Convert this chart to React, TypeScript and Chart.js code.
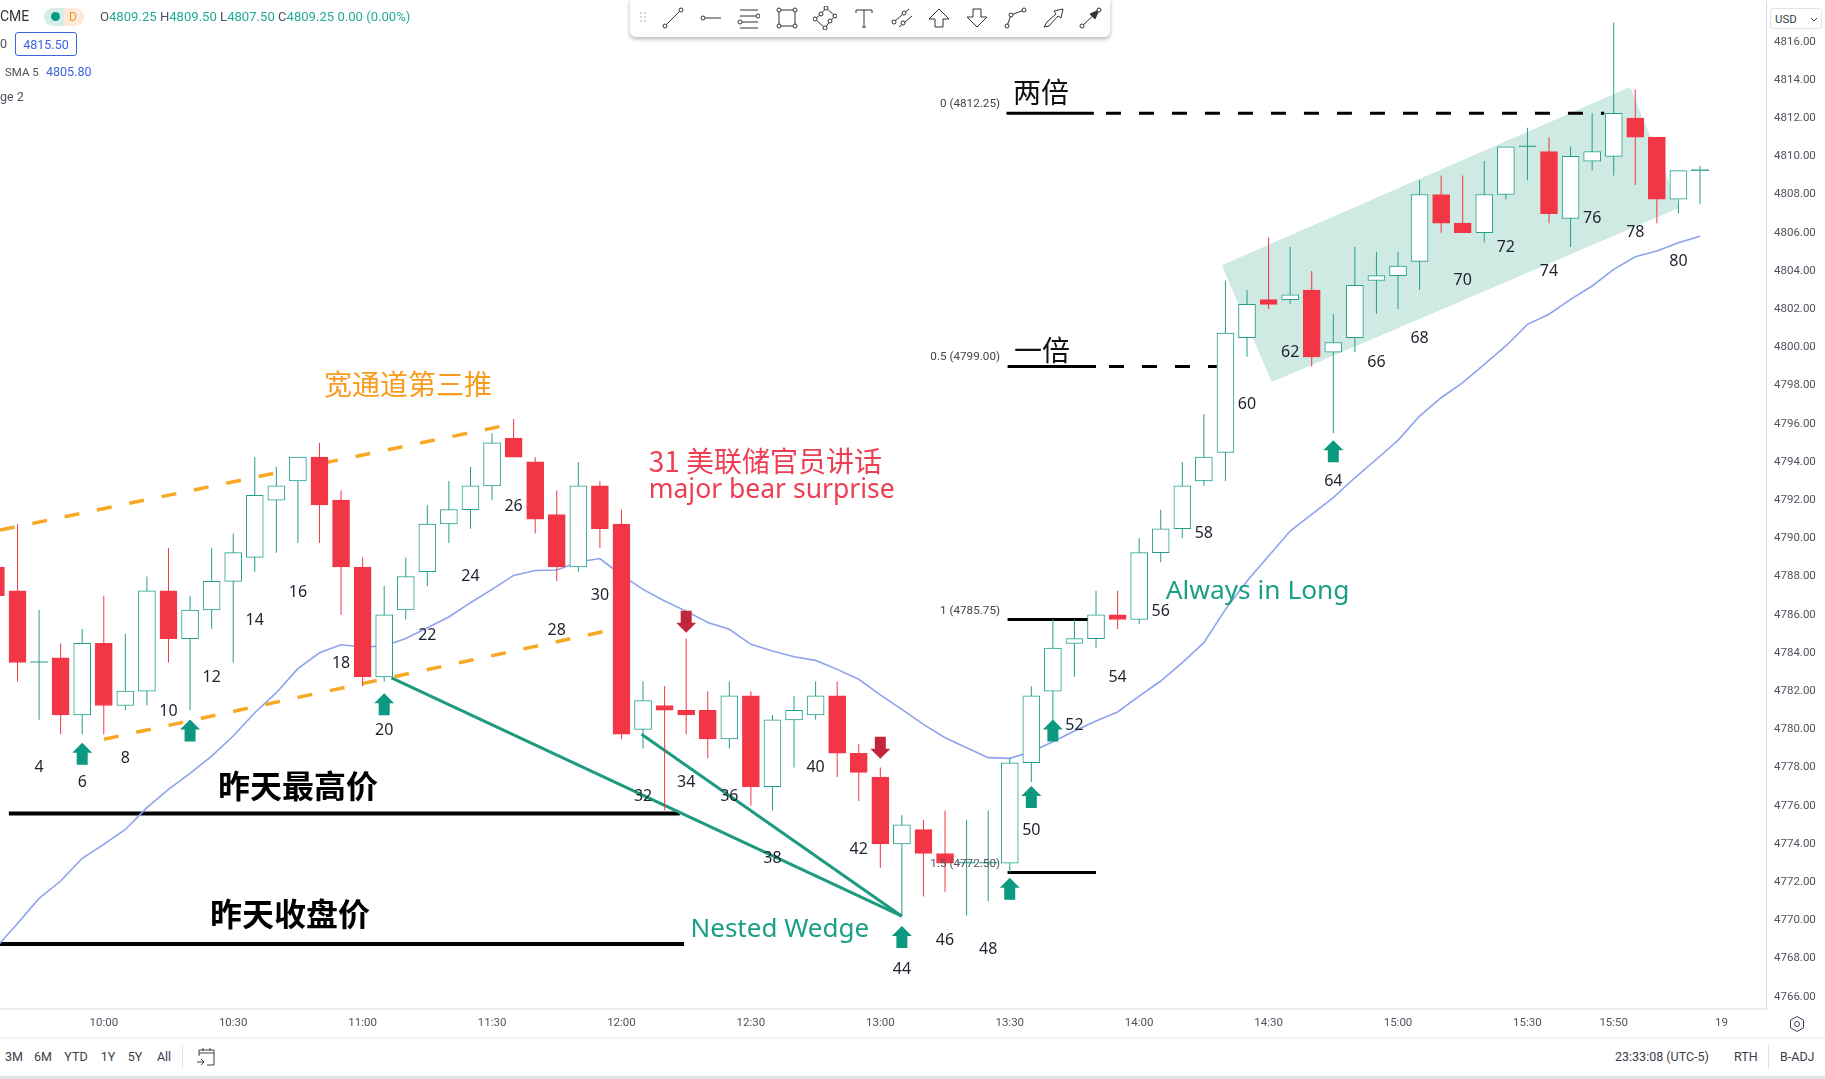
import { useEffect, useRef } from 'react';
import { Chart, registerables } from 'chart.js';

Chart.register(...registerables);

const UP = '#22a08c';
const DOWN = '#f23645';
const TEAL_TEXT = '#1a9e85';
const SMA_BLUE = '#8ea2ee';

const barNums = [
  2, 3, 4, 5, 6, 7, 8, 9, 10, 11, 12, 13, 14, 15, 16, 17, 18, 19, 20, 21, 22, 23, 24, 25, 26, 27, 28, 29, 30, 31,
  32, 33, 34, 35, 36, 37, 38, 39, 40, 41, 42, 43, 44, 45, 46, 47, 48, 49, 50, 51, 52, 53, 54, 55, 56, 57, 58, 59,
  60, 61, 62, 63, 64, 65, 66, 67, 68, 69, 70, 71, 72, 73, 74, 75, 76, 77, 78, 79, 80, 81,
];
const opens = [
  4788.5, 4787.25, 4783.5, 4783.75, 4780.75, 4784.5, 4781.25, 4782, 4787.25, 4784.75, 4786.25, 4787.75, 4789, 4792, 4793,
  4794.25, 4792, 4788.5, 4782.75, 4786.25, 4788.25, 4790.75, 4791.5, 4792.75, 4795.25, 4794, 4791.25, 4788.5, 4792.75, 4790.75,
  4780, 4781.25, 4781, 4781, 4779.5, 4781.75, 4777, 4780.5, 4780.75, 4781.75, 4778.75, 4777.5, 4774, 4774.75, 4773.5,
  4773, 4773, 4773, 4778.25, 4782, 4784.5, 4784.75, 4786, 4785.75, 4789.25, 4790.5, 4793, 4794.5,
  4800.5, 4802.5, 4802.5, 4803, 4799.75, 4800.5, 4803.5, 4803.75, 4804.5, 4808, 4806.5, 4806, 4808, 4810.5, 4810.25, 4806.75,
  4809.75, 4810, 4812, 4811, 4807.75, 4809.25,
];
const closes = [
  4787, 4783.5, 4783.5, 4780.75, 4784.5, 4781.25, 4782, 4787.25, 4784.75, 4786.25, 4787.75, 4789.25, 4792.25, 4792.75, 4794.25,
  4791.75, 4788.5, 4782.75, 4786, 4788, 4790.75, 4791.5, 4792.75, 4795, 4794.25, 4791, 4788.5, 4792.75, 4790.5, 4779.75,
  4781.5, 4781, 4780.75, 4779.5, 4781.75, 4777, 4780.5, 4781, 4781.75, 4778.75, 4777.75, 4774, 4775, 4773.5, 4773,
  4773, 4773, 4778.25, 4781.75, 4784.25, 4784.75, 4786, 4785.75, 4789.25, 4790.5, 4792.75, 4794.25, 4800.75,
  4802.25, 4802.25, 4802.75, 4799.5, 4800.25, 4803.25, 4803.75, 4804.25, 4808, 4806.5, 4806, 4808, 4810.5, 4810.5, 4807, 4810,
  4810.25, 4812.25, 4811, 4807.75, 4809.25, 4809.25,
];
const highs = [
  4789, 4790.75, 4786.25, 4784.5, 4785.25, 4787, 4785, 4788, 4789.5, 4787, 4789.5, 4790.25, 4794.25, 4793.75, 4794.25,
  4795, 4792.5, 4789, 4787.5, 4789, 4791.75, 4793, 4793.75, 4795.5, 4796.25, 4794.25, 4792.5, 4794, 4793, 4791.5,
  4782.5, 4782.25, 4784.75, 4782, 4782.5, 4782, 4780.75, 4781.75, 4782.5, 4782.5, 4779.25, 4778, 4775.5, 4775.25, 4775.75,
  4775.25, 4775.75, 4778.5, 4782.25, 4785.75, 4785.75, 4787.25, 4787.25, 4790, 4791.5, 4794, 4796.5, 4803.5,
  4803, 4805.75, 4805.25, 4804, 4801.75, 4805.25, 4805, 4805, 4808.75, 4809, 4809, 4809.75, 4810.5, 4811.5, 4811, 4810.5,
  4812.25, 4817, 4813.5, 4811, 4809.25, 4809.5,
];
const lows = [
  4786.5, 4782.5, 4780.5, 4779.75, 4779.75, 4779.75, 4781, 4781.25, 4783.5, 4781, 4785.25, 4783.5, 4788.25, 4789.25, 4789.75,
  4789.75, 4786, 4782.25, 4782.5, 4785.75, 4787.5, 4789.75, 4790.5, 4792, 4794.25, 4790.25, 4787.75, 4788.25, 4789.5, 4779.5,
  4779, 4775.75, 4779.75, 4778.5, 4779, 4776, 4775.75, 4778, 4780.5, 4777.5, 4776.25, 4772.75, 4770.25, 4771.25, 4771.5,
  4770.25, 4771, 4772.5, 4777.25, 4780, 4782.75, 4784.25, 4785.25, 4785.5, 4788.75, 4790, 4792.75, 4793,
  4799.5, 4802, 4802.25, 4799, 4795.5, 4799.75, 4801.75, 4802, 4803, 4806, 4806, 4805.5, 4807.75, 4808.75, 4806.5, 4805.25,
  4809.25, 4809, 4808.5, 4806.5, 4807, 4807.5,
];
const sma = [
  4768.57, 4769.84, 4771.15, 4772.06, 4773.25, 4773.98, 4774.76, 4775.9, 4776.86, 4777.7, 4778.6, 4779.65, 4780.87, 4781.92, 4783.18,
  4784.01, 4784.43, 4784.31, 4784.36, 4784.76, 4785.32, 4785.88, 4786.63, 4787.33, 4788.06, 4788.32, 4788.34, 4788.76, 4788.94, 4788.08,
  4787.33, 4786.72, 4786.19, 4785.59, 4785.24, 4784.45, 4784.1, 4783.8, 4783.61, 4783.14, 4782.62, 4781.8, 4781.05, 4780.26, 4779.56,
  4779.04, 4778.52, 4778.48, 4778.83, 4779.35, 4779.91, 4780.44, 4780.91, 4781.74, 4782.53, 4783.49, 4784.54, 4786.28,
  4787.77, 4789.07, 4790.38, 4791.26, 4792.13, 4793.17, 4794.14, 4795.13, 4796.4, 4797.36, 4798.15, 4799.11, 4800.07, 4801.2, 4801.73, 4802.51,
  4803.21, 4804.08, 4804.74, 4805.04, 4805.48, 4805.81,
];

const priceTicks = [
  4766, 4768, 4770, 4772, 4774, 4776, 4778, 4780, 4782, 4784, 4786, 4788, 4790, 4792, 4794, 4796, 4798, 4800, 4802, 4804,
  4806, 4808, 4810, 4812, 4814, 4816,
];
const timeBars = [7, 13, 19, 25, 31, 37, 43, 49, 55, 61, 67, 73, 77, 82];
const timeLabels = ['10:00', '10:30', '11:00', '11:30', '12:00', '12:30', '13:00', '13:30', '14:00', '14:30', '15:00', '15:30', '15:50', '19'];

// bar numbers printed under and over the candles
const countBars = [4, 6, 8, 10, 12, 14, 16, 18, 20, 22, 24, 26, 28, 30, 32, 34, 36, 38, 40, 42, 44, 46, 48, 50, 52, 54, 56, 58, 60, 62, 64, 66, 68, 70, 72, 74, 76, 78, 80];
const countPrices = [
  4778, 4777.2, 4778.5, 4780.96, 4782.7, 4785.72, 4787.19, 4783.47, 4779.96, 4784.94, 4788, 4791.69, 4785.2, 4787.03, 4776.47, 4777.2, 4776.47, 4773.23, 4778,
  4773.72, 4767.43, 4768.97, 4768.46, 4774.73, 4780.23, 4782.7, 4786.19, 4790.24, 4797.02, 4799.72, 4793, 4799.23, 4800.45, 4803.5, 4805.22, 4803.96, 4806.75, 4806, 4804.48,
];

// arrow tips
const upArrowBars = [6, 11, 20, 44, 49, 50, 51, 64];
const upArrowPrices = [4779.3, 4780.52, 4781.89, 4769.7, 4772.23, 4777.03, 4780.52, 4795.13];
const downArrowBars = [34, 43];
const downArrowPrices = [4785.06, 4778.46];

// drawn lines, as bar number and price
const upperChannelBars = [2.19, 25.65];
const upperChannelPrices = [4790.43, 4795.92];
const lowerChannelBars = [7.01, 30.14];
const lowerChannelPrices = [4779.48, 4785.11];
const wedgeOneBars = [20.34, 44];
const wedgeOnePrices = [4782.7, 4770.22];
const wedgeTwoBars = [31.93, 44];
const wedgeTwoPrices = [4779.74, 4770.22];
const yHighBars = [2.6, 33.7];
const yHighPrices = [4775.6, 4775.6];
const yCloseBars = [2.19, 33.9];
const yClosePrices = [4768.76, 4768.76];
const fibZeroBars = [48.85, 52.9];
const fibZeroDashBars = [53.46, 76.56];
const fibHalfBars = [48.9, 53];
const fibHalfDashBars = [53.6, 58.6];
const fibOneBars = [48.9, 53];
const fibExtBars = [48.9, 53];

const flagBars = [58.83, 77.76, 80.05, 61.15];
const flagPrices = [4804.29, 4813.63, 4807.3, 4798.18];

const segment = (xs: number[], ys: number[], color: string, width: number, dash: number[] = []) => ({
  type: 'line' as const,
  data: xs.map((x, i) => ({ x, y: ys[i] })),
  borderColor: color,
  borderWidth: width,
  borderDash: dash,
  pointRadius: 0,
  tension: 0,
  fill: false,
  order: 3,
});

const level = (p: number) => [p, p];

function upArrow(ctx: CanvasRenderingContext2D, x: number, y: number, dir: number) {
  ctx.beginPath();
  ctx.moveTo(x, y);
  ctx.lineTo(x + 10, y + dir * 10);
  ctx.lineTo(x + 5.5, y + dir * 10);
  ctx.lineTo(x + 5.5, y + dir * 22);
  ctx.lineTo(x - 5.5, y + dir * 22);
  ctx.lineTo(x - 5.5, y + dir * 10);
  ctx.lineTo(x - 10, y + dir * 10);
  ctx.closePath();
  ctx.fill();
}

const notesPlugin = {
  id: 'notes',
  beforeDatasetsDraw(chart: any) {
    const { ctx, scales } = chart;
    ctx.save();
    ctx.fillStyle = '#cfe9e3';
    ctx.beginPath();
    flagBars.forEach((b, i) => ctx.lineTo(scales.x.getPixelForValue(b), scales.y.getPixelForValue(flagPrices[i])));
    ctx.closePath();
    ctx.fill();
    ctx.restore();
  },
  afterDatasetsDraw(chart: any) {
    const { ctx, scales } = chart;
    const px = (b: number) => scales.x.getPixelForValue(b);
    const py = (p: number) => scales.y.getPixelForValue(p);
    ctx.save();

    ctx.fillStyle = '#0b9a80';
    upArrowBars.forEach((b, i) => upArrow(ctx, px(b), py(upArrowPrices[i]), 1));
    ctx.fillStyle = '#c2263c';
    downArrowBars.forEach((b, i) => upArrow(ctx, px(b), py(downArrowPrices[i]), -1));

    ctx.textBaseline = 'middle';
    ctx.textAlign = 'center';
    ctx.fillStyle = '#1e222d';
    ctx.font = '16px "Noto Sans"';
    countBars.forEach((b, i) => ctx.fillText(String(b), px(b), py(countPrices[i])));

    const note = (text: string, bar: number, price: number, font: string, color: string, align: CanvasTextAlign = 'left') => {
      ctx.font = font;
      ctx.fillStyle = color;
      ctx.textAlign = align;
      ctx.fillText(text, px(bar), py(price));
    };
    const cjk = '"Noto Sans CJK SC"';
    note('宽通道第三推', 17.21, 4798.08, `28px ${cjk}`, '#f99b1c');
    note('31 美联储官员讲话', 32.26, 4794.01, `28px ${cjk}`, '#ee3e54');
    note('major bear surprise', 32.26, 4792.53, '26.5px "Noto Sans"', '#ee3e54');
    note('Always in Long', 56.23, 4787.24, '26.3px "Noto Sans"', TEAL_TEXT);
    note('Nested Wedge', 34.2, 4769.54, '26px "Noto Sans"', TEAL_TEXT);
    note('昨天最高价', 12.3, 4777.03, `bold 32px ${cjk}`, '#000');
    note('昨天收盘价', 11.93, 4770.34, `bold 32px ${cjk}`, '#000');
    note('两倍', 49.15, 4813.33, `28px ${cjk}`, '#111');
    note('一倍', 49.2, 4799.86, `28px ${cjk}`, '#111');
    const fibFont = '11.7px Roboto';
    note('0 (4812.25)', 48.55, 4812.74, fibFont, '#444', 'right');
    note('0.5 (4799.00)', 48.55, 4799.49, fibFont, '#444', 'right');
    note('1 (4785.75)', 48.55, 4786.19, fibFont, '#444', 'right');
    note('1.5 (4772.50)', 48.55, 4772.94, fibFont, '#555', 'right');
    ctx.restore();
  },
};

const bodyFill = (i: number) => (closes[i] === opens[i] ? UP : closes[i] > opens[i] ? '#ffffff' : DOWN);
const candleLine = (i: number) => (closes[i] >= opens[i] ? UP : DOWN);

// no room kept for the outer tick labels, the plot runs up to the canvas edge
const clearPadding = (a: any) => {
  a.paddingTop = 0;
  a.paddingBottom = 0;
  a.paddingLeft = 0;
  a.paddingRight = 0;
};

function CandleChart() {
  const canvasRef = useRef<HTMLCanvasElement | null>(null);

  useEffect(() => {
    const canvas = canvasRef.current;
    if (!canvas) return;
    const chart = new Chart(canvas, {
      type: 'bar',
      plugins: [notesPlugin],
      data: {
        datasets: [
          {
            type: 'bar',
            data: barNums.map((x, i) => ({ x, y: [opens[i], closes[i]] })),
            barThickness: 17,
            minBarLength: 1,
            grouped: false,
            borderSkipped: false,
            borderWidth: 1,
            backgroundColor: (c: any) => bodyFill(c.dataIndex),
            borderColor: (c: any) => candleLine(c.dataIndex),
            order: 1,
          },
          {
            type: 'bar',
            data: barNums.map((x, i) => ({ x, y: [lows[i], highs[i]] })),
            barThickness: 1,
            inflateAmount: 0,
            grouped: false,
            backgroundColor: (c: any) => candleLine(c.dataIndex),
            order: 2,
          },
          segment(barNums, sma, SMA_BLUE, 1.6),
          segment(upperChannelBars, upperChannelPrices, '#f9a825', 3.5, [15, 18]),
          segment(lowerChannelBars, lowerChannelPrices, '#f9a825', 3.5, [15, 18]),
          segment(wedgeOneBars, wedgeOnePrices, '#1d9a80', 3),
          segment(wedgeTwoBars, wedgeTwoPrices, '#1d9a80', 3),
          segment(yHighBars, yHighPrices, '#000', 4),
          segment(yCloseBars, yClosePrices, '#000', 4),
          segment(fibZeroBars, level(4812.25), '#000', 3),
          segment(fibZeroDashBars, level(4812.25), '#000', 3, [15, 18]),
          segment(fibHalfBars, level(4799), '#000', 3),
          segment(fibHalfDashBars, level(4799), '#000', 3, [15, 18]),
          segment(fibOneBars, level(4785.75), '#000', 3),
          segment(fibExtBars, level(4772.5), '#000', 3),
        ] as any,
      },
      options: {
        animation: false,
        responsive: false,
        devicePixelRatio: 1,
        events: [],
        layout: { autoPadding: false, padding: 0 },
        plugins: { legend: { display: false }, tooltip: { enabled: false } },
        scales: {
          x: {
            type: 'linear',
            offset: false,
            min: 2.189,
            max: 84.06,
            afterFit: (a: any) => { a.height = 29; clearPadding(a); },
            afterBuildTicks: (a: any) => { a.ticks = timeBars.map((value) => ({ value })); },
            grid: { display: false, drawTicks: false },
            border: { color: '#eef0f5', width: 2 },
            ticks: {
              autoSkip: false,
              maxRotation: 0,
              padding: 7,
              color: '#50535e',
              font: { family: 'Roboto', size: 11.5 },
              callback: (v: any) => timeLabels[timeBars.indexOf(v)],
            },
          },
          y: {
            type: 'linear',
            position: 'right',
            min: 4765.36,
            max: 4818.13,
            afterFit: (a: any) => { a.width = 59; clearPadding(a); },
            afterBuildTicks: (a: any) => { a.ticks = priceTicks.map((value) => ({ value })); },
            grid: { display: false, drawTicks: false },
            border: { color: '#d6d9e0', width: 1 },
            ticks: {
              autoSkip: false,
              padding: 8,
              color: '#50535e',
              font: { family: 'Roboto', size: 11.5 },
              callback: (v: any) => Number(v).toFixed(2),
            },
          },
        },
      },
    });
    return () => chart.destroy();
  }, []);

  return <canvas ref={canvasRef} width={1825} height={1037} style={{ position: 'absolute', left: 0, top: 1 }} />;
}

const abs = (left: number, top: number, extra: React.CSSProperties = {}): React.CSSProperties => ({
  position: 'absolute', left, top, whiteSpace: 'nowrap', lineHeight: '16px', ...extra,
});

const Node = ({ x, y }: { x: number; y: number }) => <circle cx={x} cy={y} r={2} fill="#fff" />;

const toolIcons: [number, JSX.Element][] = [
  [673, <><path d="M5 19 19 5" /><Node x={4} y={20} /><Node x={20} y={4} /></>],
  [711, <><path d="M6 12H22" /><Node x={4} y={12} /></>],
  [748, <><path d="M4 4H22M4 10H20M6 16H22M4 22H22" /><Node x={22} y={10} /><Node x={4} y={16} /></>],
  [787, <><path d="M4 4H20V20H4Z" /><Node x={4} y={4} /><Node x={20} y={4} /><Node x={4} y={20} /><Node x={20} y={20} /></>],
  [825, <><path d="M2 13 8 8 13 2 22 10 17 15 12 22Z" /><Node x={2} y={13} /><Node x={8} y={8} /><Node x={13} y={2} /><Node x={22} y={10} /><Node x={17} y={15} /><Node x={12} y={22} /></>],
  [864, <path d="M4 7V4H20V7M12 4V21M10 21H14" />],
  [902, <><path d="M5 15 19 3M9 21 22 10" /><Node x={4} y={16} /><Node x={14} y={7} /><Node x={13} y={17} /></>],
  [939, <path d="M12 3 22 13H16V21H8V13H2Z" />],
  [977, <path d="M12 21 22 11H16V3H8V11H2Z" />],
  [1015, <><path d="M4 20 8 9 21 4" /><Node x={4} y={20} /><Node x={8} y={9} /><Node x={21} y={4} /></>],
  [1053, <path d="M3 21 6 16 15 8 13 5 22 3 20 12 17 10 8 20Z" />],
  [1090, <><path d="M4 20 20 5" /><path d="M21 4 12 8 17 13Z" fill="#333" /><Node x={4} y={20} /><Node x={21} y={4} /></>],
];

function Toolbar() {
  return (
    <div style={{ position: 'absolute', left: 630, top: -4, width: 480, height: 41, background: '#fff', borderRadius: 6, boxShadow: '0 2px 4px rgba(0,0,0,.3)' }}>
      <div style={{ position: 'absolute', left: 9, top: 15, width: 8, height: 12, opacity: 0.35, backgroundImage: 'radial-gradient(#888 1px, transparent 1px)', backgroundSize: '4px 4px' }} />
      {toolIcons.map(([x, icon]) => (
        <svg key={x} width={24} height={24} viewBox="0 0 24 24" fill="none" stroke="#333" strokeWidth={1} style={{ position: 'absolute', left: x - 630 - 12, top: 10 }}>
          {icon}
        </svg>
      ))}
    </div>
  );
}

function Legend() {
  const gray = '#4c525e';
  const val = '#22ab94';
  const blue = '#3d63e0';
  return (
    <>
      <span style={abs(0, 8, { fontSize: 14, color: '#333' })}>CME</span>
      <div style={{ position: 'absolute', left: 44, top: 8, width: 40, height: 18, borderRadius: 9, background: 'linear-gradient(90deg,#d7ede8 50%,#fdeadb 50%)' }} />
      <div style={{ position: 'absolute', left: 51, top: 12, width: 9, height: 9, borderRadius: 5, background: '#089981' }} />
      <span style={abs(69, 9, { fontSize: 12, color: '#f7931e' })}>D</span>
      <span style={abs(100, 9, { fontSize: 13.1, color: val })}>
        <span style={{ color: gray }}>O</span>4809.25 <span style={{ color: gray }}>H</span>4809.50 <span style={{ color: gray }}>L</span>4807.50 <span style={{ color: gray }}>C</span>4809.25 0.00 (0.00%)
      </span>
      <span style={abs(0, 36, { fontSize: 12.5, color: gray })}>0</span>
      <div style={{ position: 'absolute', left: 15, top: 32, width: 62, height: 24, border: `1px solid ${blue}`, borderRadius: 3, boxSizing: 'border-box', textAlign: 'center', lineHeight: '23px', fontSize: 12.5, color: blue }}>4815.50</div>
      <span style={abs(5, 64, { fontSize: 11.5, color: gray })}>SMA 5</span>
      <span style={abs(46, 64, { fontSize: 12.5, color: blue })}>4805.80</span>
      <span style={abs(0, 89, { fontSize: 12.5, color: gray })}>ge 2</span>
    </>
  );
}

const rangeLabels: [string, number][] = [['3M', 14], ['6M', 43], ['YTD', 76], ['1Y', 108], ['5Y', 135], ['All', 164]];

function BottomBar() {
  const c = '#3a3e4a';
  return (
    <>
      {rangeLabels.map(([t, x]) => (
        <span key={t} style={abs(x, 1049, { fontSize: 12.5, color: c, transform: 'translateX(-50%)' })}>{t}</span>
      ))}
      <div style={{ position: 'absolute', left: 182, top: 1045, width: 1, height: 24, background: '#e0e3eb' }} />
      <svg width={20} height={22} viewBox="0 0 20 22" fill="none" stroke={c} style={{ position: 'absolute', left: 196, top: 1046 }}>
        <path d="M3 10V4H18V19H11M3 7H18M7 2V5M14 2V5M1 16H8M5 13 8 16 5 19" />
      </svg>
      <span style={abs(1615, 1049, { fontSize: 12.5, color: c })}>23:33:08 (UTC-5)</span>
      <span style={abs(1734, 1049, { fontSize: 12.5, color: c })}>RTH</span>
      <div style={{ position: 'absolute', left: 1768, top: 1045, width: 1, height: 24, background: '#e0e3eb' }} />
      <span style={abs(1780, 1049, { fontSize: 12.5, color: c })}>B-ADJ</span>
      <div style={{ position: 'absolute', left: 0, top: 1037, width: 1825, height: 2, background: '#f0f3fa' }} />
      <div style={{ position: 'absolute', left: 0, top: 1076, width: 1825, height: 3, background: '#e0e3eb' }} />
      <svg width={18} height={18} viewBox="0 0 18 18" fill="none" stroke={c} style={{ position: 'absolute', left: 1788, top: 1015 }}>
        <path d="M9 1.5 15.5 5.2V12.8L9 16.5 2.5 12.8V5.2Z" />
        <circle cx={9} cy={9} r={2.5} />
      </svg>
      <div style={{ position: 'absolute', left: 1770, top: 8, width: 52, height: 21, border: '1px solid #e0e3eb', borderRadius: 3, boxSizing: 'border-box', background: '#fff' }}>
        <span style={abs(4, 2, { fontSize: 11.5, color: c })}>USD</span>
        <svg width={8} height={6} viewBox="0 0 8 6" fill="none" stroke={c} style={{ position: 'absolute', left: 39, top: 8 }}>
          <path d="M1 1 4 4 7 1" />
        </svg>
      </div>
    </>
  );
}

export default function App() {
  return (
    <div style={{ position: 'fixed', left: 0, top: 0, width: 1825, height: 1079, background: '#fff', overflow: 'hidden', fontFamily: 'Roboto, sans-serif' }}>
      <CandleChart />
      <Legend />
      <Toolbar />
      <BottomBar />
    </div>
  );
}
